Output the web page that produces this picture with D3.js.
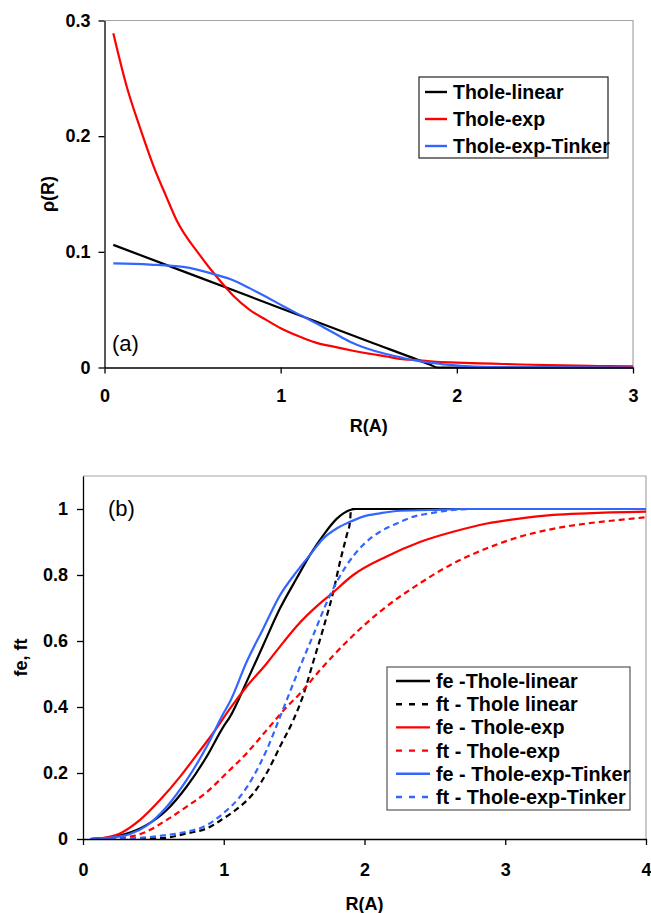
<!DOCTYPE html>
<html>
<head>
<meta charset="utf-8">
<script src="https://cdn.jsdelivr.net/npm/d3@7"></script>
<style>
  body { margin: 0; background: #fff; }
  svg { display: block; font-family: "Liberation Sans", Arial, sans-serif; }
  .axis path, .axis line { stroke: #000; stroke-width: 1.3; }
  .axis text { font-size: 18px; font-weight: bold; fill: #000; }
  .axis-title { font-size: 18px; font-weight: bold; }
  .legend text { font-weight: bold; }
</style>
</head>
<body>
<svg id="chart" width="651" height="913"></svg>
<script>
// panel (a): rho(R), pairs of [R, rho]
const rhoTholeLinear = [[0.05,0.106],[0.5,0.0801],[1.0,0.0513],[1.5,0.0225],[1.85,0.0024],[1.89,0],[2.2,0],[3,0]];
const rhoTholeExp = [[0.05,0.289],[0.126,0.243],[0.2,0.208],[0.286,0.171],[0.35,0.148],[0.41,0.127],
  [0.542,0.097],[0.637,0.0784],[0.731,0.0621],[0.826,0.0497],[0.92,0.041],[1.0,0.034],[1.11,0.0266],
  [1.2,0.0215],[1.3,0.018],[1.41,0.0145],[1.488,0.0123],[1.6,0.0095],[1.677,0.0075],[1.79,0.0062],
  [1.866,0.005],[2.0,0.0042],[2.2,0.0033],[2.36,0.0026],[2.6,0.0018],[2.8,0.0013],[3.0,0.001]];
const rhoTholeExpTinker = [[0.05,0.090],[0.258,0.089],[0.447,0.087],[0.637,0.080],[0.73,0.0755],
  [0.826,0.0684],[0.92,0.061],[1.015,0.053],[1.11,0.0455],[1.204,0.038],[1.3,0.030],[1.393,0.0223],
  [1.49,0.0165],[1.582,0.0123],[1.68,0.0088],[1.77,0.0059],[1.87,0.0038],[1.96,0.0022],[2.1,0.0008],
  [2.3,0.0002],[3,0]];

// panel (b): fe / ft, pairs of [R, f]
const feTholeLinear = [[0.05,0],[0.19,0.005],[0.3,0.015],[0.45,0.042],[0.595,0.088],[0.737,0.159],
  [0.879,0.25],[0.997,0.34],[1.044,0.37],[1.163,0.477],[1.281,0.588],[1.4,0.699],[1.518,0.79],
  [1.613,0.861],[1.708,0.921],[1.802,0.97],[1.897,0.997],[1.945,1.0],[4,1]];
const ftTholeLinear = [[0.05,0],[0.3,0.0005],[0.57,0.003],[0.737,0.017],[0.879,0.032],[0.997,0.062],
  [1.115,0.098],[1.21,0.138],[1.305,0.20],[1.4,0.28],[1.494,0.36],[1.565,0.436],[1.636,0.537],
  [1.707,0.638],[1.778,0.749],[1.826,0.84],[1.874,0.921],[1.897,0.962],[1.905,1.0],[4,1]];
const feTholeExp = [[0.05,0],[0.12,0.002],[0.263,0.017],[0.405,0.058],[0.547,0.118],[0.69,0.189],
  [0.808,0.255],[0.926,0.322],[1.044,0.395],[1.163,0.462],[1.305,0.532],[1.423,0.596],[1.518,0.645],
  [1.684,0.714],[1.755,0.739],[1.92,0.80],[2.157,0.856],[2.394,0.90],[2.63,0.931],[2.87,0.956],
  [3.1,0.971],[3.34,0.982],[3.58,0.987],[4,0.992]];
const ftTholeExp = [[0.05,0],[0.2,0.001],[0.334,0.007],[0.45,0.022],[0.595,0.058],[0.737,0.098],
  [0.879,0.142],[1.021,0.20],[1.163,0.26],[1.305,0.33],[1.447,0.40],[1.54,0.44],[1.684,0.512],
  [1.874,0.598],[2.11,0.689],[2.394,0.775],[2.63,0.835],[2.87,0.881],[3.105,0.916],[3.34,0.94],
  [3.578,0.956],[3.815,0.967],[4,0.975]];
const feTholeExpTinker = [[0.05,0],[0.2,0.004],[0.334,0.015],[0.45,0.04],[0.595,0.098],[0.737,0.179],
  [0.879,0.28],[0.997,0.38],[1.044,0.416],[1.163,0.537],[1.281,0.638],[1.4,0.739],[1.518,0.81],
  [1.613,0.861],[1.708,0.911],[1.802,0.941],[1.897,0.961],[1.99,0.977],[2.11,0.987],[2.23,0.994],
  [2.465,0.997],[2.7,1.0],[4,1]];
const ftTholeExpTinker = [[0.05,0],[0.3,0.001],[0.45,0.005],[0.595,0.012],[0.737,0.022],[0.879,0.042],
  [0.997,0.078],[1.115,0.128],[1.21,0.189],[1.305,0.27],[1.4,0.37],[1.518,0.497],[1.636,0.618],
  [1.755,0.739],[1.874,0.83],[1.99,0.891],[2.11,0.931],[2.23,0.956],[2.35,0.977],[2.465,0.987],
  [2.6,0.996],[2.75,1.0],[4,1]];

const xTicksA = [0, 1, 2, 3];
const yTicksA = [0, 0.1, 0.2, 0.3];
const xTicksB = [0, 1, 2, 3, 4];
const yTicksB = [0, 0.2, 0.4, 0.6, 0.8, 1];

const RED = "#ff0000", BLUE = "#3366ff", BLACK = "#000000";

const seriesA = [
  {label: "Thole-linear", data: rhoTholeLinear, color: BLACK, dash: null},
  {label: "Thole-exp", data: rhoTholeExp, color: RED, dash: null},
  {label: "Thole-exp-Tinker", data: rhoTholeExpTinker, color: BLUE, dash: null}
];
const seriesB = [
  {label: "fe -Thole-linear", data: feTholeLinear, color: BLACK, dash: null},
  {label: "ft - Thole linear", data: ftTholeLinear, color: BLACK, dash: "6,4"},
  {label: "fe - Thole-exp", data: feTholeExp, color: RED, dash: null},
  {label: "ft - Thole-exp", data: ftTholeExp, color: RED, dash: "6,4"},
  {label: "fe - Thole-exp-Tinker", data: feTholeExpTinker, color: BLUE, dash: null},
  {label: "ft - Thole-exp-Tinker", data: ftTholeExpTinker, color: BLUE, dash: "6,4"}
];

const svg = d3.select("#chart");

function drawPanel(cfg) {
  const g = svg.append("g");

  const x = d3.scaleLinear().domain(cfg.xDomain).range([cfg.left, cfg.right]);
  const y = d3.scaleLinear().domain(cfg.yDomain).range([cfg.bottom, cfg.top]);

  // light grey frame on the top and right of the plot area
  g.append("path")
      .attr("d", `M${cfg.left},${cfg.top}H${cfg.right}V${cfg.bottom}`)
      .attr("fill", "none")
      .attr("stroke", "#a6a6a6")
      .attr("stroke-width", 1.2);

  const line = d3.line()
      .x(d => x(d[0]))
      .y(d => y(d[1]))
      .curve(d3.curveMonotoneX);

  g.selectAll(".curve")
      .data(cfg.series)
    .join("path")
      .attr("class", "curve")
      .attr("d", d => line(d.data))
      .attr("fill", "none")
      .attr("stroke", d => d.color)
      .attr("stroke-width", 2.2)
      .attr("stroke-dasharray", d => d.dash);

  g.append("g")
      .attr("class", "axis")
      .attr("transform", `translate(0,${cfg.bottom})`)
      .call(d3.axisBottom(x).tickValues(cfg.xTicks).tickFormat(d3.format("")).tickSize(6).tickSizeOuter(0).tickPadding(cfg.xPad));

  g.append("g")
      .attr("class", "axis")
      .attr("transform", `translate(${cfg.left},0)`)
      .call(d3.axisLeft(y).tickValues(cfg.yTicks).tickFormat(d3.format("")).tickSize(6).tickSizeOuter(0).tickPadding(cfg.yPad));

  g.selectAll(".axis text").attr("font-family", null).attr("font-size", null);

  g.append("text")
      .attr("class", "axis-title")
      .attr("x", (cfg.left + cfg.right) / 2)
      .attr("y", cfg.xTitleY)
      .attr("text-anchor", "middle")
      .text("R(A)");

  g.append("text")
      .attr("class", "axis-title")
      .attr("transform", `translate(${cfg.yTitleX},${(cfg.top + cfg.bottom) / 2}) rotate(-90)`)
      .attr("text-anchor", "middle")
      .text(cfg.yTitle);

  g.append("text")
      .attr("x", cfg.tag[0])
      .attr("y", cfg.tag[1])
      .attr("font-size", 22)
      .text(cfg.tagText);

  // legend
  const lg = g.append("g").attr("class", "legend");
  const L = cfg.legend;
  lg.append("rect")
      .attr("x", L.x).attr("y", L.y)
      .attr("width", L.w).attr("height", L.h)
      .attr("fill", "#fff")
      .attr("stroke", L.stroke)
      .attr("stroke-width", 1.2);
  const rows = lg.selectAll(".row")
      .data(cfg.series)
    .join("g")
      .attr("class", "row")
      .attr("transform", (d, i) => `translate(0,${L.firstRow + i * L.step})`);
  rows.append("line")
      .attr("x1", L.lineX0).attr("x2", L.lineX1)
      .attr("stroke", d => d.color)
      .attr("stroke-width", 2.4)
      .attr("stroke-dasharray", d => d.dash ? "6,7" : null);
  rows.append("text")
      .attr("x", L.textX)
      .attr("y", 7)
      .attr("font-size", L.fontSize)
      .text(d => d.label);
}

drawPanel({
  xDomain: [0, 3], yDomain: [0, 0.3],
  left: 104.5, right: 633, top: 20.5, bottom: 367.5,
  xTicks: xTicksA, yTicks: yTicksA, xPad: 16, yPad: 8,
  xTitleY: 432, yTitleX: 54, yTitle: "ρ(R)",
  tag: [112, 351], tagText: "(a)",
  series: seriesA,
  legend: {x: 419, y: 77, w: 189, h: 81, stroke: "#222", firstRow: 92, step: 27,
           lineX0: 425, lineX1: 447, textX: 453, fontSize: 19.5}
});

drawPanel({
  xDomain: [0, 4], yDomain: [0, 1.1],
  left: 83, right: 646, top: 476, bottom: 839,
  xTicks: xTicksB, yTicks: yTicksB, xPad: 18, yPad: 9,
  xTitleY: 910, yTitleX: 27, yTitle: "fe, ft",
  tag: [108, 516], tagText: "(b)",
  series: seriesB,
  legend: {x: 387, y: 667, w: 243, h: 143, stroke: "#555", firstRow: 681, step: 23.2,
           lineX0: 396, lineX1: 430, textX: 436, fontSize: 19.8}
});
</script>
</body>
</html>
